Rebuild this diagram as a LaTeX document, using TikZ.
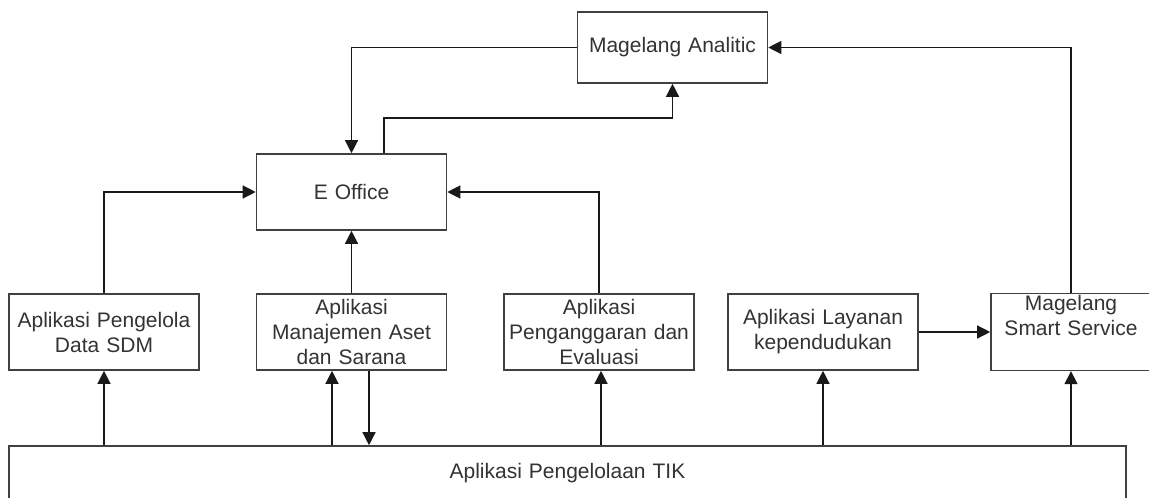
\documentclass[tikz,border=0pt]{standalone}
\usepackage{fontspec}
\setmainfont{Liberation Sans}
\usepackage{tikz}
\usetikzlibrary{arrows.meta,positioning,calc}
\definecolor{Ink}{HTML}{333333}
\definecolor{Edge}{HTML}{404040}
\tikzset{
  flow/.style={draw=Edge,fill=white,line width=1.6pt,minimum width=190pt,minimum height=76pt,
    inner sep=2pt,text width=184pt,align=center,text=Ink,font=\fontsize{21}{25}\selectfont},
  arrow/.style={-{Triangle[length=13pt,width=13pt]},line width=1.3pt,color=black!90}
}

\begin{document}
\begin{tikzpicture}[x=1pt,y=-1pt]
  \clip (0,0) rectangle (1149,498);
  \fill[white] (0,0) rectangle (1149,498);
  % top row
  \node[flow,minimum height=71pt] (ana) at (672.5,47.5) {Magelang Analitic};
  \node[flow] (eoff) at (351.5,192) {E Office};
  % application row
  \node[flow] (sdm) at (104,332) {Aplikasi Pengelola\\Data SDM};
  \node[flow] (aset) at (351.5,332) {Aplikasi\\Manajemen Aset\\dan Sarana};
  \node[flow] (angg) at (599,332) {Aplikasi\\Penganggaran dan\\Evaluasi};
  \node[flow] (lay) at (823,332) {Aplikasi Layanan\\kependudukan};
  \node[flow,minimum width=160pt,text width=154pt] (smart) at (1071,332)
    {Magelang\\Smart Service\\\strut};
  % base
  \node[flow,minimum width=1117pt,minimum height=54pt,text width=1100pt] (tik) at (567.5,473)
    {Aplikasi Pengelolaan TIK};
  \coordinate (bend) at (384,118);

  \draw[arrow] (sdm.north) |- (eoff.west);
  \draw[arrow] (aset.north) -- (eoff.south);
  \draw[arrow] (angg.north) |- (eoff.east);
  \draw[arrow] (ana.west) -| (eoff.north);
  \draw[arrow] (eoff.north -| bend) -- (bend) -| (ana.south);
  \draw[arrow] (smart.north) |- (ana.east);
  \draw[arrow] (lay.east) -- (smart.west);

  \draw[arrow] (sdm.south |- tik.north) -- (sdm.south);
  \draw[arrow] ([xshift=-19.5pt]aset.south |- tik.north) -- ([xshift=-19.5pt]aset.south);
  \draw[arrow] ([xshift=17.5pt]aset.south) -- ([xshift=17.5pt]aset.south |- tik.north);
  \draw[arrow] ([xshift=2pt]angg.south |- tik.north) -- ([xshift=2pt]angg.south);
  \draw[arrow] (lay.south |- tik.north) -- (lay.south);
  \draw[arrow] (smart.south |- tik.north) -- (smart.south);
\end{tikzpicture}
\end{document}
